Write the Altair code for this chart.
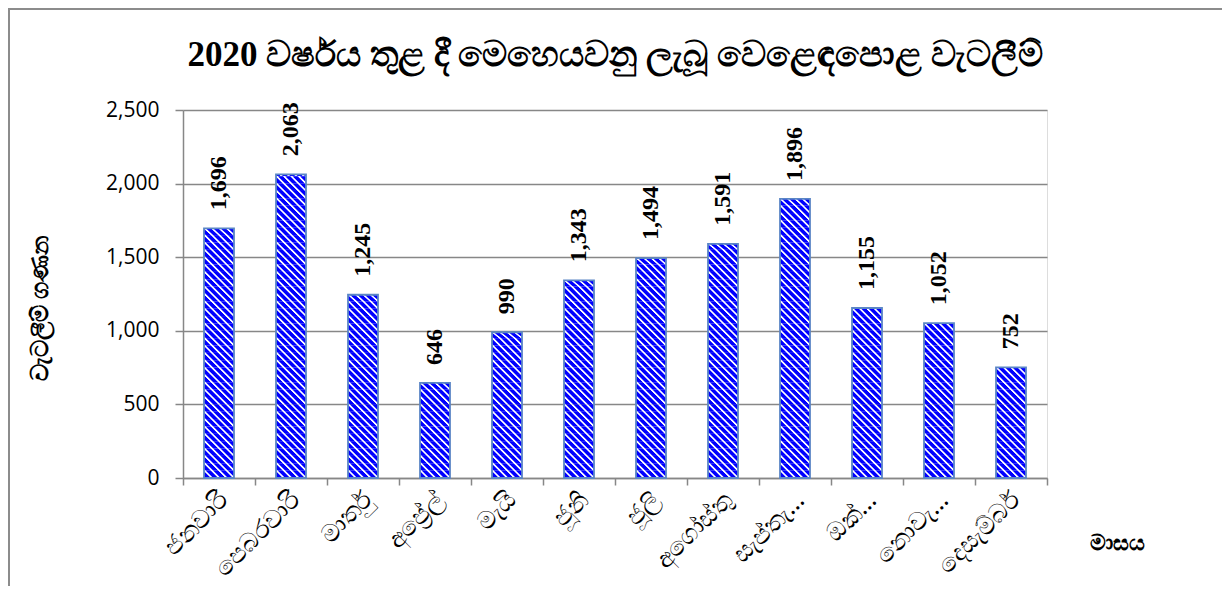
import altair as alt
import pandas as pd

# ---- data ----
months = ["ජනවාරි", "පෙබරවාරි", "මාර්තු", "අප්\u200dරේල්", "මැයි", "ජූනි",
          "ජූලි", "අගෝස්තු", "සැප්තැ…", "ඔක්…", "නොවැ…", "දෙසැම්බර්"]
raids = [1696, 2063, 1245, 646, 990, 1343, 1494, 1591, 1896, 1155, 1052, 752]
y_ticks = [0, 500, 1000, 1500, 2000, 2500]

title_text = "2020 වර්ෂය තුළ දී මෙහෙයවනු ලැබූ වෙළෙඳපොළ වැටලීම්"
y_title = "වැටලීම් ගණන"
x_title = "මාසය"

df = pd.DataFrame({"month": months, "value": raids})

# ---- styling / layout ----
W, H = 864, 368
BAR_W = 30
SEG = 50                      # data units per hatch tile
SEG_PX = SEG * H / 2500.0     # tile height in px
PERIOD = SEG_PX               # stripe period (1 per tile)
GRID = "#878787"
BLUE = "#0000ff"

# diagonal "\" hatch as a bounding-box linear gradient
w, h = float(BAR_W), SEG_PX
den = w * w + h * h
x2 = w * (w + h) / den
y2 = 1 - h * (w + h) / den
pt = PERIOD / (w + h)
phases = [(0.0, "#ffffff"), (0.16, "#ffffff"), (0.34, BLUE), (0.86, BLUE), (1.0, "#ffffff")]
stops = []
k = 0
while k * pt < 1.0:
    for ph, col in phases:
        off = (k + ph) * pt
        if off <= 1.0:
            stops.append(alt.GradientStop(offset=off, color=col))
    k += 1
hatch = alt.LinearGradient(gradient="linear", stops=stops, x1=0, y1=1, x2=x2, y2=y2)

x_enc = alt.X(
    "month:N", sort=months,
    scale=alt.Scale(paddingInner=0, paddingOuter=0),
    axis=alt.Axis(
        title=x_title, titleX=934, titleY=64, titleAlign="center", titleBaseline="middle",
        titleFont="Noto Sans", titleFontSize=22, titleFontWeight="bold", titleColor="black",
        labelAngle=-45, labelAlign="right", labelBaseline="top", labelPadding=2,
        labelFont="Noto Sans", labelFontSize=25, labelColor="black", labelLimit=220,
        labelOffset=-4,
        tickBand="extent", tickSize=7, tickColor=GRID, tickWidth=1.5,
        domainColor=GRID, domainWidth=1.5, grid=False,
    ),
)
y_enc = alt.Y(
    "start:Q", scale=alt.Scale(domain=[0, 2500], nice=False),
    axis=alt.Axis(
        values=y_ticks, format=",.0f", title=y_title,
        titleX=-143, titleY=198, titleAngle=270, titleAlign="center", titleBaseline="middle",
        titleFont="Noto Sans", titleFontSize=24, titleFontWeight="bold", titleColor="black",
        labelFont="Open Sans", labelFontSize=21, labelColor="black", labelPadding=16,
        tickSize=8, tickColor=GRID, tickWidth=1.5,
        domainColor=GRID, domainWidth=1.5,
        grid=True, gridColor=GRID, gridWidth=1.5,
    ),
)

tiles = alt.Chart(df).transform_calculate(
    starts=f"sequence(0, datum.value, {SEG})"
).transform_flatten(["starts"]).transform_calculate(
    start="datum.starts",
    end=f"min(datum.starts + {SEG}, datum.value)",
).mark_bar(size=BAR_W, color=hatch, strokeWidth=0).encode(
    x=x_enc, y=y_enc, y2="end:Q",
)

outline = alt.Chart(df).mark_bar(
    size=BAR_W, fillOpacity=0, stroke="#5b86c6", strokeWidth=1.8
).encode(
    x=alt.X("month:N", sort=months),
    y=alt.Y("value:Q"),
)

labels = alt.Chart(df).mark_text(
    angle=270, align="left", baseline="middle", dx=18,
    font="Liberation Serif", fontWeight="bold", fontSize=24, color="black",
).encode(
    x=alt.X("month:N", sort=months),
    y=alt.Y("value:Q"),
    text=alt.Text("value:Q", format=","),
)

frame = alt.Chart(df).mark_rect(
    fill="transparent", stroke="#8c8c8c", strokeWidth=1.5
).encode(
    x=alt.value(-174.25), x2=alt.value(1200),
    y=alt.value(-101.25), y2=alt.value(700),
)

chart = alt.layer(tiles, outline, labels, frame).properties(
    width=W, height=H,
    title=alt.TitleParams(
        title_text, font="Liberation Serif", fontSize=35, fontWeight="bold",
        color="black", anchor="middle", baseline="alphabetic", offset=-93,
    ),
    autosize=alt.AutoSizeParams(type="none"),
    padding={"left": 175, "top": 102, "right": 175, "bottom": 108},
).configure_view(stroke=None).configure(background="white")

chart.save("out.html", embed_options={"renderer": "svg", "actions": False})
